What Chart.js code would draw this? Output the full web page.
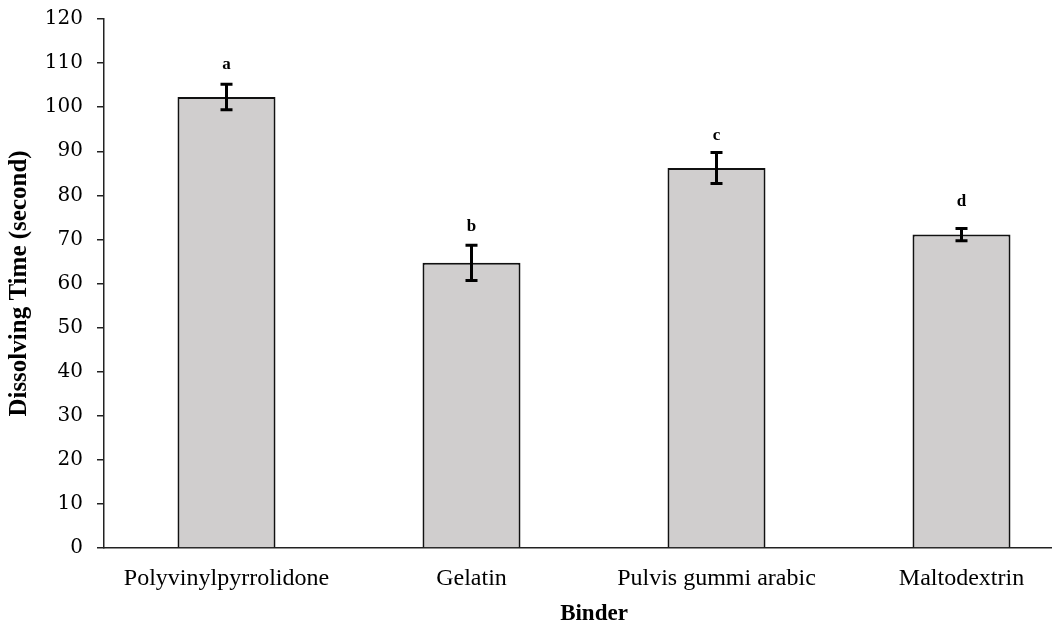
<!DOCTYPE html>
<html>
<head>
<meta charset="utf-8">
<script src="https://cdn.jsdelivr.net/npm/chart.js@4.4.0/dist/chart.umd.min.js"></script>
<style>
  html, body { margin: 0; padding: 0; background: #fff; overflow: hidden; }
  #wrap { position: relative; width: 1090px; height: 625px; }
</style>
</head>
<body>
<div id="wrap"><canvas id="c"></canvas></div>
<script>
const categories = ["Polyvinylpyrrolidone", "Gelatin", "Pulvis gummi arabic", "Maltodextrin"];
const meanValues = [102.3, 64.7, 86.2, 71.1];
const errorValues = [2.9, 4.0, 3.5, 1.4];
const letterLabels = ["a", "b", "c", "d"];
const letterValues = [109.6, 72.8, 93.5, 78.6];
const yTicks = [0, 10, 20, 30, 40, 50, 60, 70, 80, 90, 100, 110, 120];

const errorPlugin = {
  id: 'errorBars',
  afterDatasetsDraw(chart) {
    const ctx = chart.ctx;
    const meta = chart.getDatasetMeta(0);
    const y = chart.scales.y;
    ctx.save();
    meta.data.forEach((bar, i) => {
      const x = bar.x;
      const top = y.getPixelForValue(meanValues[i] + errorValues[i]);
      const bot = y.getPixelForValue(meanValues[i] - errorValues[i]);
      ctx.strokeStyle = '#000';
      ctx.lineWidth = 3;
      ctx.beginPath();
      ctx.moveTo(x, top); ctx.lineTo(x, bot);
      ctx.moveTo(x - 6, top); ctx.lineTo(x + 6, top);
      ctx.moveTo(x - 6, bot); ctx.lineTo(x + 6, bot);
      ctx.stroke();
      ctx.fillStyle = '#000';
      ctx.font = 'bold 17px "Liberation Serif", serif';
      ctx.textAlign = 'center';
      ctx.textBaseline = 'middle';
      ctx.fillText(letterLabels[i], x, y.getPixelForValue(letterValues[i]));
    });
    ctx.restore();
  }
};

new Chart(document.getElementById('c'), {
  type: 'bar',
  data: {
    labels: categories,
    datasets: [{
      data: meanValues,
      backgroundColor: '#d0cece',
      borderColor: '#111',
      borderWidth: 2,
      barPercentage: 0.4,
      categoryPercentage: 1.0
    }]
  },
  options: {
    responsive: true,
    maintainAspectRatio: false,
    animation: false,
    layout: { padding: { left: 0, right: 6, top: 19, bottom: 0 } },
    plugins: { legend: { display: false }, tooltip: { enabled: false } },
    scales: {
      x: {
        grid: { display: false, drawTicks: false },
        border: { display: true, color: '#222', width: 1.5 },
        ticks: { color: '#000', font: { family: '"Liberation Serif", serif', size: 24 }, padding: 16, maxRotation: 0 },
        title: { display: true, text: 'Binder', color: '#000', font: { family: '"Liberation Serif", serif', size: 23, weight: 'bold' }, padding: { top: 0, bottom: -3 } },
        afterFit: s => { s.height = 77; s.paddingLeft = 0; s.paddingRight = 0; }
      },
      y: {
        min: 0, max: 120,
        afterBuildTicks: s => { s.ticks = yTicks.map(v => ({ value: v })); },
        grid: { display: true, drawOnChartArea: false, drawTicks: true, tickLength: 7, color: '#222', lineWidth: 1.5 },
        border: { display: true, color: '#222', width: 1.5 },
        ticks: { color: '#000', font: { family: '"DejaVu Serif", serif', size: 20 }, padding: 14 },
        title: { display: true, text: 'Dissolving Time (second)', color: '#000', font: { family: '"Liberation Serif", serif', size: 25, weight: 'bold' }, padding: { top: 5, bottom: 0 } },
        afterFit: s => { s.width = 104; s.paddingTop = 0; s.paddingBottom = 0; }
      }
    }
  },
  plugins: [errorPlugin]
});
</script>
</body>
</html>
